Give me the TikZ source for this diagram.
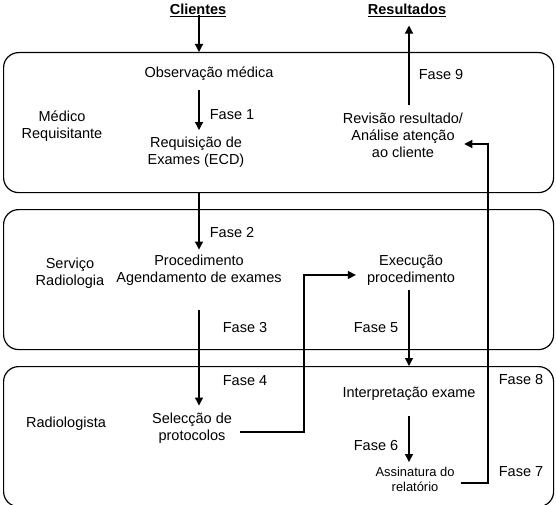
\documentclass[tikz,border=0pt]{standalone}
\usepackage{fontspec}
\setmainfont{Liberation Sans}
\usetikzlibrary{arrows.meta,calc}
\begin{document}
\begin{tikzpicture}[x=1pt,y=-1pt,
  lane/.style={draw, line width=1.2pt, rounded corners=15pt, minimum width=550pt,
    minimum height=140pt, anchor=north west, inner sep=0pt},
  lbl/.style={font=\fontsize{14.5}{17}\selectfont, align=center, inner sep=1pt},
  small/.style={font=\fontsize{12.9}{15}\selectfont, align=center, inner sep=1pt},
  head/.style={font=\fontsize{14.5}{17}\selectfont\bfseries, inner sep=1pt},
  conn/.style={line width=1.2pt},
  arr/.style={conn, -{Triangle[length=8pt,width=8pt]}}]
\fill[white] (0,0) rectangle (556,505);
\useasboundingbox (0,0) rectangle (556,505);

% swimlanes
\node[lane] (lane1) at (3,52) {};
\node[lane] (lane2) at (3,209) {};
\node[lane] (lane3) at (3,366) {};

% headings
\node[head] (clientes) at (198,10) {\underline{Clientes}};
\node[head] (result) at (407,10) {\underline{Resultados}};

% lane labels
\node[lbl] (medico) at (62,126.5) {Médico\\Requisitante};
\node[lbl] (servico) at (70,273.5) {Serviço\\Radiologia};
\node[lbl] (radiol) at (66,424) {Radiologista};

% activities
\node[lbl] (obs) at (209,74) {Observação médica};
\node[lbl] (req) at (196,152.5) {Requisição de\\Exames (ECD)};
\node[lbl] (rev) at (403,135) {Revisão resultado/\\Análise atenção\\ao cliente};
\node[lbl] (proc) at (199,270) {Procedimento\\Agendamento de exames};
\node[lbl] (exec) at (411,270.5) {Execução\\procedimento};
\node[lbl] (sel) at (192,428) {Selecção de\\protocolos};
\node[lbl] (interp) at (409,394) {Interpretação exame};
\node[small] (assin) at (415,479.5) {Assinatura do\\relatório};

% phase labels
\node[lbl] (f1) at (232,115) {Fase 1};
\node[lbl] (f2) at (232,233) {Fase 2};
\node[lbl] (f3) at (245,328) {Fase 3};
\node[lbl] (f4) at (245,381) {Fase 4};
\node[lbl] (f5) at (376,328) {Fase 5};
\node[lbl] (f6) at (376,446) {Fase 6};
\node[lbl] (f7) at (521,472) {Fase 7};
\node[lbl] (f8) at (521,380) {Fase 8};
\node[lbl] (f9) at (441,75) {Fase 9};

% flow
\coordinate (colA) at (199,0);
\coordinate (colB) at (409,0);
\coordinate (colC) at (304,0);
\coordinate (riser) at (488,0);
\draw[arr, shorten <=-3pt] (clientes.south -| colA) -- (lane1.north -| colA);
\draw[arr, shorten <=8pt, shorten >=6pt] (obs.south -| colA) -- (req.north -| colA);
\draw[arr, shorten >=4pt] (lane1.south -| colA) -- (proc.north -| colA);
\draw[arr, shorten <=24pt, shorten >=6pt] (proc.south -| colA) -- (sel.north -| colA);
\coordinate (selout) at ([xshift=7pt,yshift=-4pt]sel.east);
\draw[arr, shorten >=10pt] (selout) -- (selout -| colC) |- ([yshift=-4.5pt]exec.west);
\draw[arr, shorten <=3pt] (exec.south -| colB) -- (lane3.north -| colB);
\draw[arr, shorten <=14pt, shorten >=4pt] (interp.south -| colB) -- (assin.north -| colB);
\coordinate (ret) at ([yshift=-9pt]rev.east);
\draw[arr] ([yshift=-3.5pt,xshift=5pt]assin.east) -- ([yshift=-3.5pt]assin.east -| riser)
  -- (riser |- ret) -- (ret);
\draw[arr, shorten <=6pt, shorten >=8pt] (rev.north -| colB) -- (result.south -| colB);
\end{tikzpicture}
\end{document}
